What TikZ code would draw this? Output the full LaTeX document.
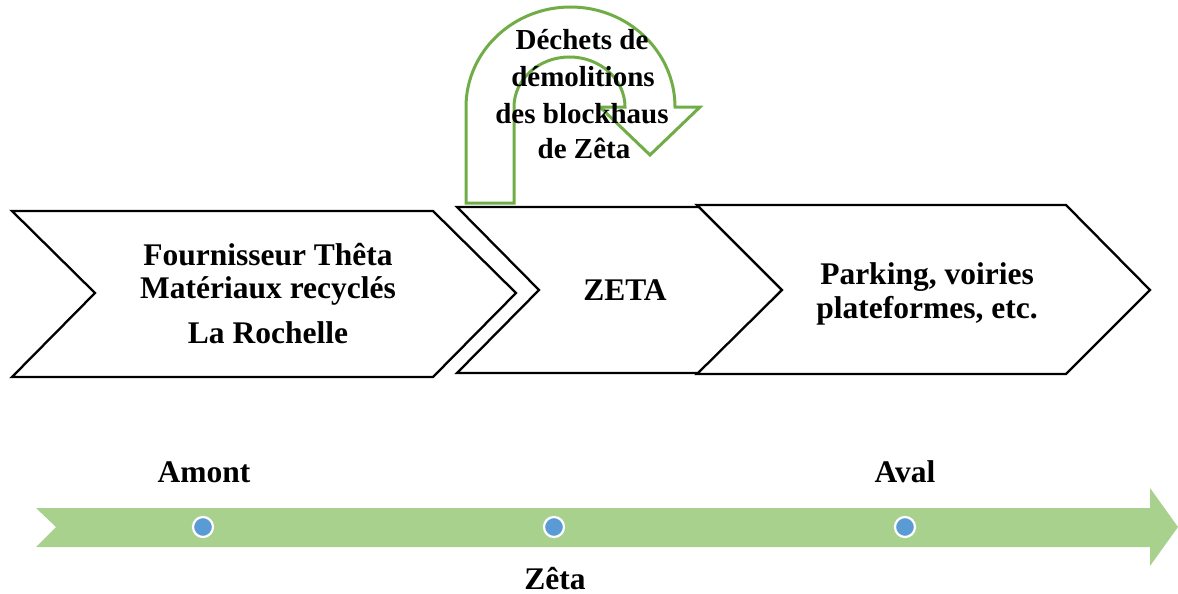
\documentclass[tikz,border=0pt]{standalone}
\usepackage{fontspec}
\setmainfont{Liberation Serif}
\definecolor{linegreen}{HTML}{70AD47}
\definecolor{lightgreen}{HTML}{A9D18E}
\definecolor{dotblue}{HTML}{5B9BD5}
\begin{document}
\begin{tikzpicture}[x=1pt,y=-1pt,
  chev/.style={draw=black, line width=2.3pt, fill=white, line join=miter},
  uturn/.style={draw=linegreen, line width=3pt, fill=white, line join=miter},
  lbl/.style={font=\fontsize{31.5}{36}\selectfont\bfseries, anchor=base, inner sep=0pt},
  smalllbl/.style={font=\fontsize{29}{36}\selectfont\bfseries, anchor=base, inner sep=0pt},
  dotnode/.style={circle, fill=dotblue, draw=white, line width=2.2pt, minimum size=20pt, inner sep=0pt}]
\useasboundingbox (0,0) rectangle (1178,594);

% chevrons
\draw[chev] (12,211) -- (433,211) -- (516,293) -- (433,377) -- (12,377) -- (95,293) -- cycle;
\draw[chev] (457,207) -- (699,207) -- (782,290) -- (700,373) -- (457,373) -- (539,290) -- cycle;
\draw[chev] (697,205) -- (1066,205) -- (1150,290) -- (1066,374) -- (697,374) -- (782,290) -- cycle;

% U-turn arrow
\draw[uturn] (466,203) -- (466,107) arc[start angle=180, end angle=360, x radius=104.5, y radius=100]
  -- (700,107) -- (650,155) -- (600,107) -- (625,107)
  arc[start angle=360, end angle=180, x radius=55.5, y radius=50]
  -- (514,203) -- cycle;

% texts
\node[smalllbl] (d1) at (582,49) {Déchets de};
\node[smalllbl] (d2) at (583,87) {démolitions};
\node[smalllbl] (d3) at (582,123) {des blockhaus};
\node[smalllbl] (d4) at (584,158) {de Zêta};

\node[lbl] (f1) at (268,265) {Fournisseur Thêta};
\node[lbl] (f2) at (268,298) {Matériaux recyclés};
\node[lbl] (f3) at (268,343) {La Rochelle};

\node[lbl] (z) at (625,300) {ZETA};

\node[lbl] (p1) at (927,284) {Parking, voiries};
\node[lbl] (p2) at (927,318) {plateformes, etc.};

% timeline arrow
\fill[lightgreen] (36,508) -- (1150,508) -- (1150,488) -- (1178,527) -- (1150,566) -- (1150,547) -- (36,547) -- (56,527) -- cycle;
\node[dotnode] (t1) at (203,527) {};
\node[dotnode] (t2) at (554,527) {};
\node[dotnode] (t3) at (905,527) {};

\node[lbl] (amont) at (204,482) {Amont};
\node[lbl] (aval) at (905,482) {Aval};
\node[lbl] (zeta) at (555,589) {Zêta};
\end{tikzpicture}
\end{document}
